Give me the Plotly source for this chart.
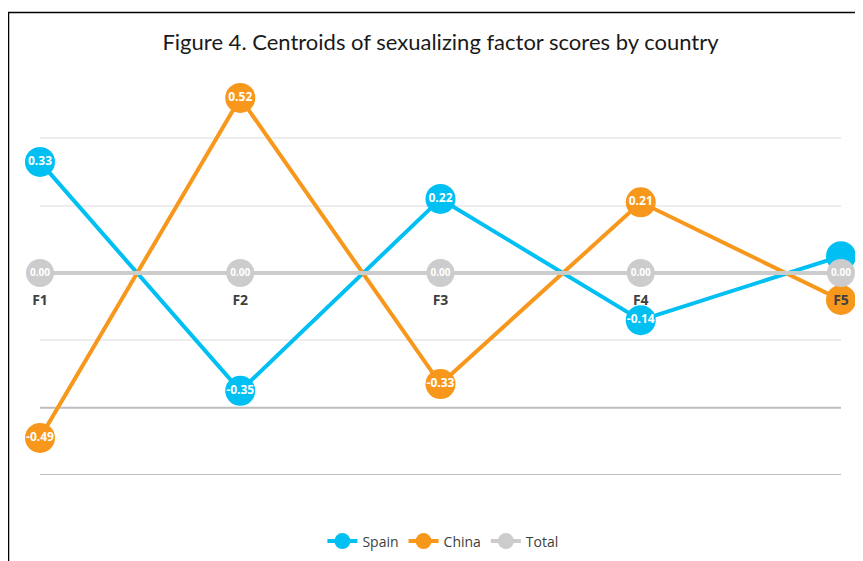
import plotly.graph_objects as go

factors = ["F1", "F2", "F3", "F4", "F5"]
spain = [0.33, -0.35, 0.22, -0.14, 0.05]
china = [-0.49, 0.52, -0.33, 0.21, -0.08]
total = [0.00, 0.00, 0.00, 0.00, 0.00]
# labels shown in the reference (last Spain/China labels are hidden)
spain_labels = ["0.33", "-0.35", "0.22", "-0.14", ""]
china_labels = ["-0.49", "0.52", "-0.33", "0.21", ""]
total_labels = ["0.00", "0.00", "0.00", "0.00", "0.00"]
light_grid_vals = [-0.2, 0.2, 0.4]
dark_grid_vals = [-0.6, -0.4]

SPAIN_C = "#00BFF3"
CHINA_C = "#F7981D"
TOTAL_C = "#CCCCCC"

xs = list(range(len(factors)))
ymin, ymax = -0.6, 0.6

fig = go.Figure()

def add_series(name, vals, labels, color, size, fsize):
    fig.add_trace(go.Scatter(
        x=xs, y=vals, name=name, mode="lines+markers+text",
        line=dict(color=color, width=4),
        marker=dict(color=color, size=size),
        text=labels, textposition="middle center",
        textfont=dict(color="white", size=fsize, family="Open Sans", weight="bold"),
        cliponaxis=False,
    ))

add_series("Spain", spain, spain_labels, SPAIN_C, 30, 12)
add_series("China", china, china_labels, CHINA_C, 30, 12)
add_series("Total", total, total_labels, TOTAL_C, 28, 10)

shapes = [
    dict(type="line", xref="paper", x0=0, x1=1, yref="y", y0=v, y1=v,
         line=dict(color="#BDBDBD", width=2), layer="below")
    for v in dark_grid_vals
]

TOP, BOT = 63, 91
plot_h = 561 - TOP - BOT
# outer frame (partly cropped in the reference): top edge at screen y=12
shapes.append(dict(type="rect", xref="paper", yref="paper",
                   x0=-0.0393, x1=1.2, y0=-0.6, y1=1 + (TOP + 8 - 12) / plot_h,
                   line=dict(color="black", width=1.5), layer="below"))

fig.update_layout(
    width=863, height=561,
    margin=dict(l=32, r=30, t=TOP, b=BOT),
    paper_bgcolor="white", plot_bgcolor="white",
    title=dict(text="Figure 4. Centroids of sexualizing factor scores by country",
               x=0.5, xref="paper", y=1 - 34 / 561, yref="container",
               xanchor="center", yanchor="middle",
               font=dict(family="Lato", size=22, color="#1a1a1a")),
    xaxis=dict(range=[0, len(factors) - 1], tickvals=xs, ticktext=factors,
               anchor="free", position=(0 - ymin) / (ymax - ymin),
               showgrid=False, zeroline=False, showline=False,
               ticks="outside", ticklen=14, tickcolor="rgba(0,0,0,0)",
               tickfont=dict(family="Open Sans", size=14, color="#404040",
                             weight="bold")),
    yaxis=dict(range=[ymin, ymax], tickvals=light_grid_vals, showticklabels=False,
               showgrid=True, gridcolor="#EDEDED", gridwidth=1.5,
               zeroline=False, showline=False),
    legend=dict(orientation="h", x=0.503, xanchor="center",
                y=-(545 - 8 - (561 - BOT)) / plot_h, yanchor="middle",
                font=dict(family="Open Sans", size=14, color="#404040"),
                itemwidth=30),
    shapes=shapes,
    showlegend=True,
)

fig.write_html("out.html")
